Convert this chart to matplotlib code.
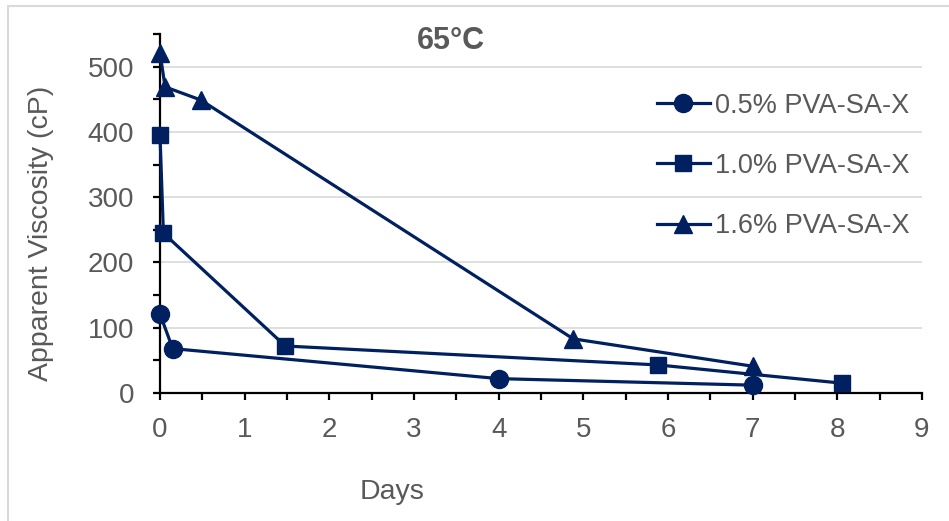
import numpy as np
import matplotlib
matplotlib.use('Agg')
from matplotlib import pyplot as plt
from matplotlib.ticker import MultipleLocator
from matplotlib.patches import Rectangle

plt.rcParams['font.family'] = ['Liberation Sans', 'DejaVu Sans']

# viscosity decay at 65 C, days vs apparent viscosity (cP)
days_05 = [0.0, 0.15, 4.0, 7.0]
visc_05 = [121, 68, 22, 12]
days_10 = [0.0, 0.04, 1.48, 5.88, 8.06]
visc_10 = [396, 245, 72, 43, 15]
days_16 = [0.0, 0.06, 0.48, 4.88, 7.0]
visc_16 = [521, 469, 449, 83, 41]
labels = ['0.5% PVA-SA-X', '1.0% PVA-SA-X', '1.6% PVA-SA-X']

navy = '#002060'
grey_txt = '#595959'

fig = plt.figure(figsize=(9.49, 5.21), dpi=100)
ax = fig.add_axes([0.1686, 0.2457, 0.9715 - 0.1686, 0.9347 - 0.2457])

# light chart-area border
fig.patches.append(Rectangle((7.5 / 949, -0.01), 1.2, 1 - 5.5 / 521 + 0.01,
                             transform=fig.transFigure, fill=False,
                             edgecolor='#d9d9d9', lw=1.5))

series = [(days_05, visc_05, 'o', 13), (days_10, visc_10, 's', 12),
          (days_16, visc_16, '^', 12.5)]
for (x, y, m, ms), lab in zip(series, labels):
    ax.plot(x, y, color=navy, lw=2.3, marker=m, markersize=ms,
            label=lab, clip_on=False, zorder=3)

ax.set_xlim(0, 9)
ax.set_ylim(0, 550)
ax.xaxis.set_major_locator(MultipleLocator(1))
ax.xaxis.set_minor_locator(MultipleLocator(0.5))
ax.yaxis.set_major_locator(MultipleLocator(100))
ax.yaxis.set_minor_locator(MultipleLocator(50))
ax.set_yticks([0, 100, 200, 300, 400, 500])

for y in range(100, 501, 100):
    ax.axhline(y, color='#d9d9d9', lw=1.2, zorder=0)

for s in ['top', 'right']:
    ax.spines[s].set_visible(False)
for s in ['left', 'bottom']:
    ax.spines[s].set_linewidth(1.6)
    ax.spines[s].set_color('black')

ax.tick_params(which='major', direction='out', length=5, width=1.6,
               labelsize=20, labelcolor=grey_txt)
ax.tick_params(which='minor', direction='out', length=5, width=1.6)
ax.tick_params(axis='x', which='major', pad=12)
ax.tick_params(axis='y', which='major', pad=13.5)

fig.text(392 / 949, 1 - 492 / 521, 'Days', fontsize=20.5, color=grey_txt,
         ha='center', va='center')
fig.text(41 / 949, 1 - 233 / 521, 'Apparent Viscosity (cP)', fontsize=20.5,
         color=grey_txt, ha='center', va='center', rotation=90)

fig.text(451 / 949, 1 - 41 / 521, '65°C', fontsize=22, fontweight='bold',
         color=grey_txt, ha='center', va='center')

leg = ax.legend(loc='upper left', bbox_to_anchor=(646 / 949, 1 - 82 / 521),
                bbox_transform=fig.transFigure, frameon=False, fontsize=19.5,
                handlelength=1.96, handletextpad=0.18, labelspacing=1.26,
                borderaxespad=0, markerscale=1.0)
for t in leg.get_texts():
    t.set_color(grey_txt)

fig.savefig('out.png', dpi=100)
